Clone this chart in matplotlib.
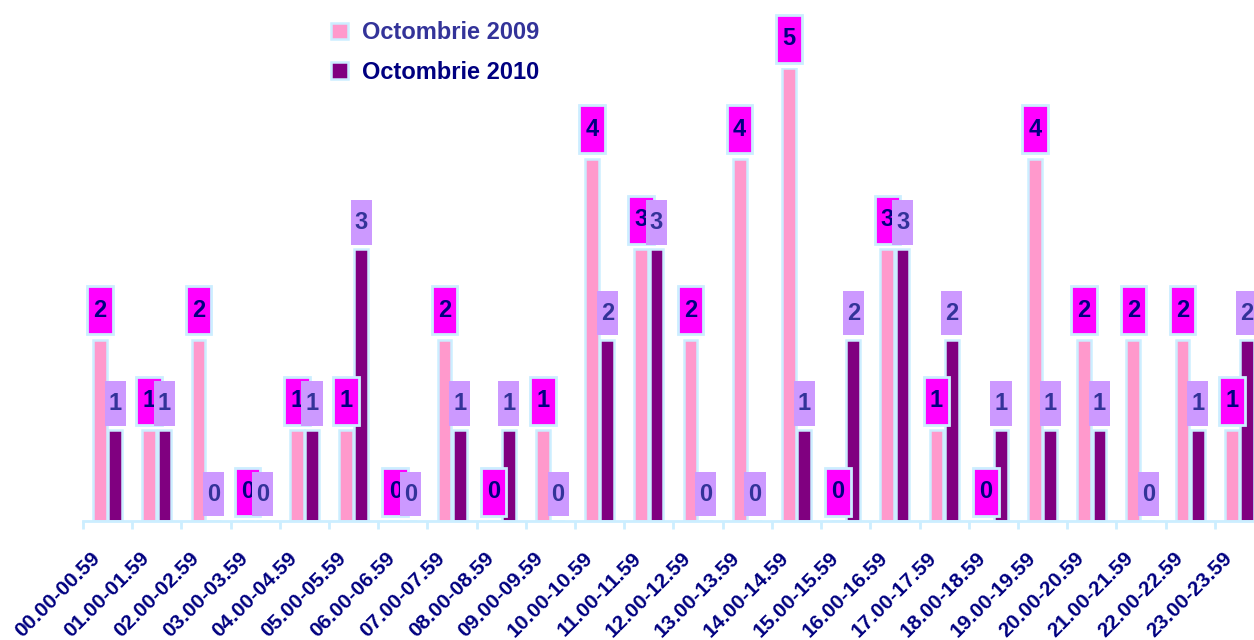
import numpy as np
import matplotlib
matplotlib.use('Agg')
import matplotlib.pyplot as plt
import matplotlib.transforms as mtransforms

# data
intervals = ['00.00-00.59', '01.00-01.59', '02.00-02.59', '03.00-03.59', '04.00-04.59',
             '05.00-05.59', '06.00-06.59', '07.00-07.59', '08.00-08.59', '09.00-09.59',
             '10.00-10.59', '11.00-11.59', '12.00-12.59', '13.00-13.59', '14.00-14.59',
             '15.00-15.59', '16.00-16.59', '17.00-17.59', '18.00-18.59', '19.00-19.59',
             '20.00-20.59', '21.00-21.59', '22.00-22.59', '23.00-23.59']
oct_2009 = [2, 1, 2, 0, 1, 1, 0, 2, 0, 1, 4, 3, 2, 4, 5, 0, 3, 1, 0, 4, 2, 2, 2, 1]
oct_2010 = [1, 1, 0, 0, 1, 3, 0, 1, 1, 0, 2, 3, 0, 0, 1, 2, 3, 2, 1, 1, 1, 0, 1, 2]
series_names = ['Octombrie 2009', 'Octombrie 2010']

plt.rcParams['font.family'] = ['Liberation Sans', 'DejaVu Sans']

PINK = '#ff99cc'
PURPLE = '#800080'
EDGE = '#cceeff'
MAGENTA = '#ff00ff'
LAVENDER = '#cc99ff'
NAVY = '#000080'
BLUE_TXT = '#333399'

fig = plt.figure(figsize=(12.54, 6.4), dpi=100)
ax = fig.add_axes([83 / 1254, (640 - 521) / 640, 1181 / 1254, (521 - 68) / 640])

x = np.arange(len(intervals))
off = 0.155
w = 0.28

b1 = ax.bar(x - off, oct_2009, width=w, color=PINK, edgecolor=EDGE, linewidth=1.8, zorder=2,
            label=series_names[0])
b2 = ax.bar(x + off, oct_2010, width=w, color=PURPLE, edgecolor=EDGE, linewidth=1.8, zorder=2,
            label=series_names[1])

# value labels in boxes
v09 = np.array(oct_2009)
v10 = np.array(oct_2010)
ax.bar(x - off, 0.53, bottom=v09 + 0.06, width=0.52, color=MAGENTA, edgecolor=EDGE,
       linewidth=2, zorder=3, clip_on=False)
for xi, v in zip(x - off, v09):
    ax.text(xi, v + 0.06 + 0.265, str(v), ha='center', va='center', fontsize=17,
            fontweight='bold', color=NAVY, zorder=4, clip_on=False)
ax.bar(x + off, 0.49, bottom=v10 + 0.05, width=0.43, color=LAVENDER, linewidth=0,
       zorder=5, clip_on=False)
for xi, v in zip(x + off, v10):
    ax.text(xi, v + 0.05 + 0.245, str(v), ha='center', va='center', fontsize=17,
            fontweight='bold', color=BLUE_TXT, zorder=6, clip_on=False)

ax.set_xlim(-0.5, len(intervals) - 0.5)
ax.set_ylim(0, 5)

for s in ['top', 'right', 'left']:
    ax.spines[s].set_visible(False)
ax.spines['bottom'].set_color(EDGE)
ax.spines['bottom'].set_linewidth(2)
ax.set_yticks([])

ax.set_xticks(np.arange(len(intervals) + 1) - 0.5)
ax.set_xticklabels([])
ax.tick_params(axis='x', which='major', length=6, width=2, color=EDGE)
ax.set_xticks(x, minor=True)
ax.set_xticklabels(intervals, minor=True, rotation=45, ha='right', va='top',
                   rotation_mode='anchor', fontsize=15, fontweight='bold', color=NAVY)
ax.tick_params(axis='x', which='minor', length=0, pad=20)
shift = mtransforms.ScaledTranslation(-17 / 100, 0, fig.dpi_scale_trans)
for lbl in ax.get_xticklabels(minor=True):
    lbl.set_transform(lbl.get_transform() + shift)

leg = fig.legend(handles=[b1, b2], labels=series_names, loc='upper left',
                 bbox_to_anchor=(310 / 1254, 1 - 0 / 640), frameon=False,
                 prop={'weight': 'bold', 'size': 17}, handlelength=0.7, handleheight=0.7,
                 handletextpad=0.6, labelspacing=0.7)
for t, c in zip(leg.get_texts(), [BLUE_TXT, NAVY]):
    t.set_color(c)

plt.savefig('out.png', dpi=100)
plt.close()
